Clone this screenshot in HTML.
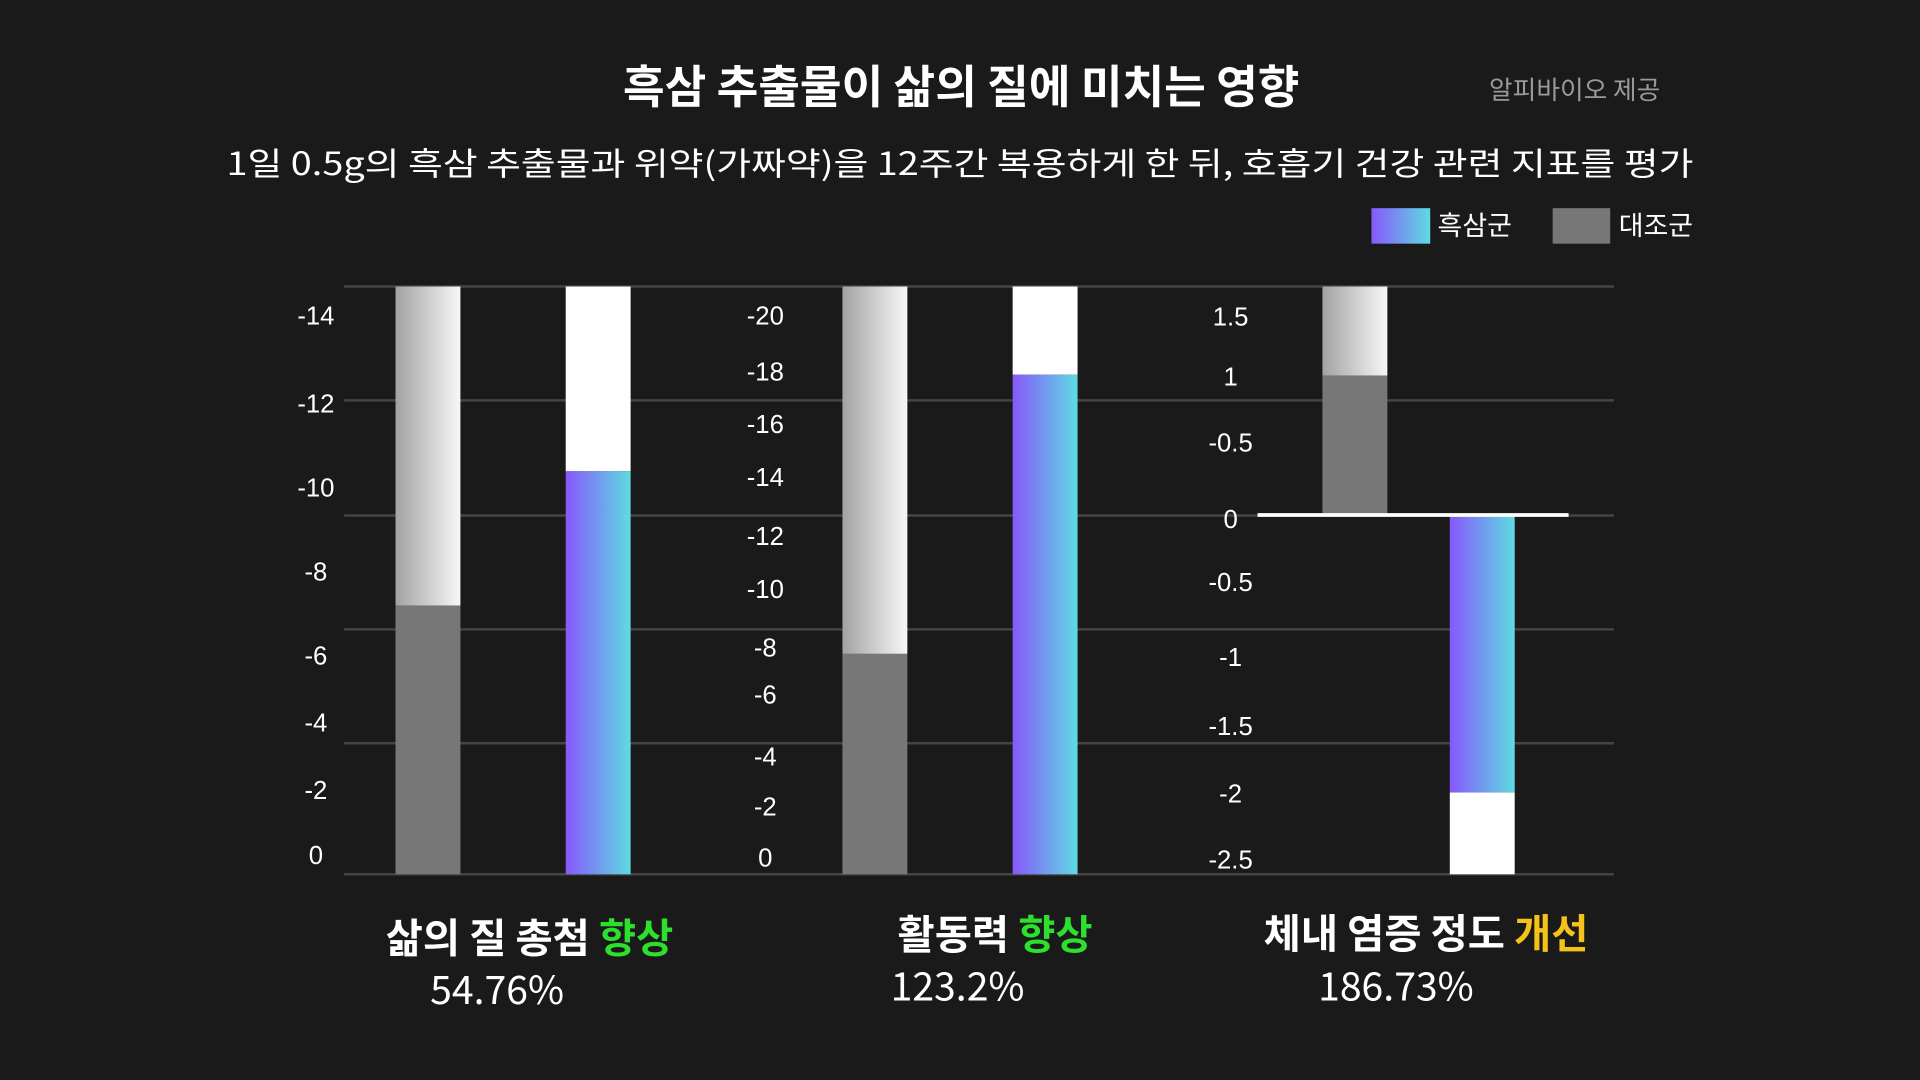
<!DOCTYPE html>
<html><head><meta charset="utf-8"><style>
html,body{margin:0;padding:0;background:#1a1a1a;}
svg{display:block;font-family:"Liberation Sans","Noto Sans CJK KR",sans-serif;}
</style></head><body>
<svg id="chart" width="1920" height="1080" viewBox="0 0 1568 882" xmlns="http://www.w3.org/2000/svg">
<defs>
<linearGradient id="gTreat" x1="0" x2="1" y1="0" y2="0"><stop offset="0" stop-color="#8758fb"/><stop offset="1" stop-color="#5edbe2"/></linearGradient>
<linearGradient id="gLight" x1="0" x2="1" y1="0" y2="0"><stop offset="0" stop-color="#a2a2a2"/><stop offset="1" stop-color="#f7f7f7"/></linearGradient>
</defs>
<rect width="1568" height="882" fill="#1a1a1a"/>
<text x="785" y="84" text-anchor="middle" font-size="37" font-weight="bold" fill="#fff" font-family="'Noto Sans CJK KR',sans-serif">흑삼 추출물이 삶의 질에 미치는 영향</text>
<text x="1286" y="81" text-anchor="middle" font-size="21" fill="#9a9a9a" font-family="'Noto Sans CJK KR',sans-serif">알피바이오 제공</text>
<text x="784" y="143" text-anchor="middle" font-size="26" fill="#fff" textLength="1198" lengthAdjust="spacingAndGlyphs" font-family="'Noto Sans CJK KR',sans-serif">1일 0.5g의 흑삼 추출물과 위약(가짜약)을 12주간 복용하게 한 뒤, 호흡기 건강 관련 지표를 평가</text>
<g>
<rect x="1120" y="170" width="48" height="29" fill="url(#gTreat)"/>
<text x="1174" y="192" font-size="22" fill="#fff" font-family="'Noto Sans CJK KR',sans-serif">흑삼군</text>
<rect x="1268" y="170" width="47" height="29" fill="#777"/>
<text x="1322" y="192" font-size="22" fill="#fff" font-family="'Noto Sans CJK KR',sans-serif">대조군</text>
</g>
<g id="grid"></g>
<g id="marks"></g>
<g font-family="'Noto Sans CJK KR',sans-serif" font-weight="bold">
<text x="315" y="778" font-size="33" fill="#fff">삶의 질 총첨 <tspan fill="#2ee02e">향상</tspan></text>
<text x="406" y="820" text-anchor="middle" font-size="32" font-weight="normal" fill="#fff">54.76%</text>
<text x="733" y="775" font-size="33" fill="#fff">활동력 <tspan fill="#2ee02e">향상</tspan></text>
<text x="782" y="817" text-anchor="middle" font-size="32" font-weight="normal" fill="#fff">123.2%</text>
<text x="1032" y="774" font-size="33" fill="#fff">체내 염증 정도 <tspan fill="#f5c21a">개선</tspan></text>
<text x="1140" y="817" text-anchor="middle" font-size="32" font-weight="normal" fill="#fff">186.73%</text>
</g>
</svg>
<script>
const panels = ['quality-of-life','activity','inflammation'];
const controlValues = [6.4, 7.5, 0.97];
const treatmentValues = [9.6, 17.0, -1.93];
const axisMax = [14, 20, 1.59];
const axisMin = [0, 0, -2.5];
const ticks1 = ['-14','-12','-10','-8','-6','-4','-2','0'];
const ticks1Vals = [13.3, 11.2, 9.2, 7.2, 5.2, 3.6, 2.0, 0.45];
const ticks2 = ['-20','-18','-16','-14','-12','-10','-8','-6','-4','-2','0'];
const ticks2Vals = [19.0, 17.1, 15.3, 13.5, 11.5, 9.7, 7.7, 6.1, 4.0, 2.3, 0.55];
const ticks3 = ['1.5','1','-0.5','0','-0.5','-1','-1.5','-2','-2.5'];
const ticks3Vals = [1.38, 0.96, 0.5, -0.03, -0.47, -0.99, -1.47, -1.94, -2.4];

const NS='http://www.w3.org/2000/svg';
const grid=document.getElementById('grid'), marks=document.getElementById('marks');
function mk(tag, attrs, parent){const e=document.createElementNS(NS,tag);for(const k in attrs)e.setAttribute(k,attrs[k]);parent.appendChild(e);return e;}
// y-axis: each panel maps [axisMin, axisMax] to [714, 234]
function yScale(i, v){return 714 - (v - axisMin[i])/(axisMax[i]-axisMin[i])*480;}

[234,327,421,514,607,714].forEach((y,k)=>{
  const l=mk('line',{x1:281,x2:1318,y1:y,y2:y,stroke:'#444','stroke-width':2},grid);
  
  
});

const tickSets=[[ticks1,ticks1Vals,258],[ticks2,ticks2Vals,625],[ticks3,ticks3Vals,1005]];
tickSets.forEach((ts,i)=>{
  ts[0].forEach((lab,k)=>{
    const t=mk('text',{x:ts[2],y:yScale(i,ts[1][k])+7,'text-anchor':'middle','font-size':21,fill:'#fff'},grid);
    t.textContent=lab;
    
    
  });
});

const ctrlX=[323,688,1080], trtX=[462,827,1184], bw=53;
panels.forEach((p,i)=>{
  const y0=yScale(i,0), yTop=yScale(i,axisMax[i]), yBot=yScale(i,axisMin[i]);
  // control
  const cv=yScale(i,controlValues[i]);
  let bg;
  if(controlValues[i]>=0){bg=mk('rect',{x:ctrlX[i],y:yTop,width:bw,height:cv-yTop,fill:'url(#gLight)'},marks);}
  else{bg=mk('rect',{x:ctrlX[i],y:cv,width:bw,height:yBot-cv,fill:'url(#gLight)'},marks);}
  
  
  const c=mk('rect',{x:ctrlX[i],y:Math.min(cv,y0),width:bw,height:Math.abs(y0-cv),fill:'#777'},marks);
  
  
  // treatment
  const tv=yScale(i,treatmentValues[i]);
  let tb;
  if(treatmentValues[i]>=0){tb=mk('rect',{x:trtX[i],y:yTop,width:bw,height:tv-yTop,fill:'#fff'},marks);}
  else{tb=mk('rect',{x:trtX[i],y:tv,width:bw,height:yBot-tv,fill:'#fff'},marks);}
  
  
  const t=mk('rect',{x:trtX[i],y:Math.min(tv,y0),width:bw,height:Math.abs(y0-tv),fill:'url(#gTreat)'},marks);
  
  
  if(axisMin[i]<0){
    const z=mk('line',{x1:1027,x2:1281,y1:y0,y2:y0,stroke:'#fff','stroke-width':3},marks);
    
    
  }
});
</script>
</body></html>
